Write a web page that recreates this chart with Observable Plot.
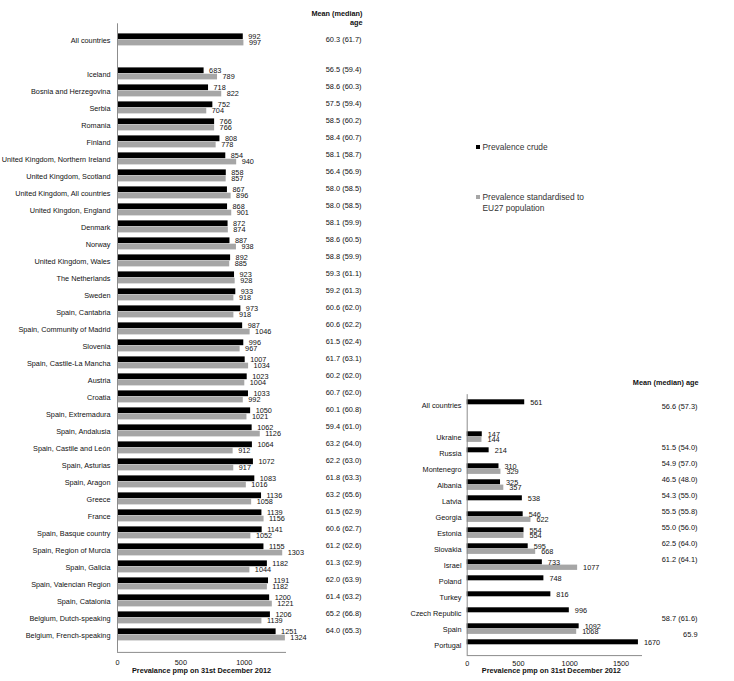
<!DOCTYPE html>
<html>
<head>
<meta charset="utf-8">
<script src="https://cdn.jsdelivr.net/npm/d3@7"></script>
<script src="https://cdn.jsdelivr.net/npm/@observablehq/plot@0.6"></script>
<style>
  html, body { margin: 0; padding: 0; background: #fff; }
  #wrap { position: relative; width: 734px; height: 681px; overflow: hidden; font-family: "Liberation Sans", Arial, sans-serif; }
  #wrap svg { position: absolute; top: 0; }
  .lg-sq { position: absolute; width: 4px; height: 4px; }
  .lg-tx { position: absolute; font-size: 8.4px; line-height: 11px; color: #333; white-space: nowrap; }
</style>
</head>
<body>
<div id="wrap"></div>
<script>
// ---------- Left panel data ----------
const leftCategories = [
  "All countries", "Iceland", "Bosnia and Herzegovina", "Serbia", "Romania", "Finland",
  "United Kingdom, Northern Ireland", "United Kingdom, Scotland", "United Kingdom, All countries",
  "United Kingdon, England", "Denmark", "Norway", "United Kingdom, Wales", "The Netherlands",
  "Sweden", "Spain, Cantabria", "Spain, Community of Madrid", "Slovenia", "Spain, Castile-La Mancha",
  "Austria", "Croatia", "Spain, Extremadura", "Spain, Andalusia", "Spain, Castile and León",
  "Spain, Asturias", "Spain, Aragon", "Greece", "France", "Spain, Basque country",
  "Spain, Region of Murcia", "Spain, Galicia", "Spain, Valencian Region", "Spain, Catalonia",
  "Belgium, Dutch-speaking", "Belgium, French-speaking"
];
const leftCrude = [992, 683, 718, 752, 766, 808, 854, 858, 867, 868, 872, 887, 892, 923, 933, 973, 987, 996, 1007, 1023, 1033, 1050, 1062, 1064, 1072, 1083, 1136, 1139, 1141, 1155, 1182, 1191, 1200, 1206, 1251];
const leftStandardised = [997, 789, 822, 704, 766, 778, 940, 857, 896, 901, 874, 938, 885, 928, 918, 918, 1046, 967, 1034, 1004, 992, 1021, 1126, 912, 917, 1016, 1058, 1156, 1052, 1303, 1044, 1182, 1221, 1139, 1324];
const leftMeanAge = ["60.3 (61.7)", "56.5 (59.4)", "58.6 (60.3)", "57.5 (59.4)", "58.5 (60.2)", "58.4 (60.7)",
  "58.1 (58.7)", "56.4 (56.9)", "58.0 (58.5)", "58.0 (58.5)", "58.1 (59.9)", "58.6 (60.5)", "58.8 (59.9)",
  "59.3 (61.1)", "59.2 (61.3)", "60.6 (62.0)", "60.6 (62.2)", "61.5 (62.4)", "61.7 (63.1)", "60.2 (62.0)",
  "60.7 (62.0)", "60.1 (60.8)", "59.4 (61.0)", "63.2 (64.0)", "62.2 (63.0)", "61.8 (63.3)", "63.2 (65.6)",
  "61.5 (62.9)", "60.6 (62.7)", "61.2 (62.6)", "61.3 (62.9)", "62.0 (63.9)", "61.4 (63.2)", "65.2 (66.8)",
  "64.0 (65.3)"];
const leftTicks = [0, 500, 1000];
const leftAxisLabel = "Prevalance pmp on 31st December 2012";

// ---------- Right panel data ----------
const rightCategories = ["All countries", "Ukraine", "Russia", "Montenegro", "Albania", "Latvia", "Georgia",
  "Estonia", "Slovakia", "Israel", "Poland", "Turkey", "Czech Republic", "Spain", "Portugal"];
const rightCrude = [561, 147, 214, 310, 325, 538, 546, 554, 595, 733, 748, 816, 996, 1092, 1670];
const rightStandardised = [null, 144, null, 329, 357, null, 622, 554, 668, 1077, null, null, null, 1068, null];
const rightMeanAge = ["56.6 (57.3)", null, "51.5 (54.0)", "54.9 (57.0)", "46.5 (48.0)", "54.3 (55.0)",
  "55.5 (55.8)", "55.0 (56.0)", "62.5 (64.0)", "61.2 (64.1)", null, null, null, "58.7 (61.6)", "65.9"];
const rightTicks = [0, 500, 1000, 1500];
const rightAxisLabel = "Prevalence pmp on 31st December 2012";

const ageHeaderLeft = "Mean (median)\nage";
const ageHeaderRight = "Mean (median) age";
const legendLabels = ["Prevalence crude", "Prevalence standardised to\nEU27 population"];

const CRUDE = "#000000", STD = "#a6a6a6", AXIS = "#8c8c8c";
const FONT = "'Liberation Sans', Arial, sans-serif";

// ---------- tables ----------
const leftRows = leftCategories.map((c, i) => ({cat: c, crude: leftCrude[i], std: leftStandardised[i], age: leftMeanAge[i], i}));
const rightRows = rightCategories.map((c, i) => ({cat: c, crude: rightCrude[i], std: rightStandardised[i], age: rightMeanAge[i], i}));
const leftDomain = [leftCategories[0], "", ...leftCategories.slice(1)];
const rightDomain = [rightCategories[0], "", ...rightCategories.slice(1)];

const wrap = document.getElementById("wrap");

// ---------- Left chart ----------
const left = Plot.plot({
  width: 420, height: 681,
  marginLeft: 117, marginRight: 135, marginTop: 23.3, marginBottom: 29.1,
  style: {fontFamily: FONT, fontSize: "7.3px", color: "#111", background: "transparent", overflow: "visible"},
  x: {domain: [0, 1325]},
  y: {domain: leftDomain, padding: 0},
  marks: [
    Plot.barX(leftRows, {y: "cat", x: "crude", fill: CRUDE, insetTop: 1.4, insetBottom: 9.8}),
    Plot.barX(leftRows, {y: "cat", x: "std", fill: STD, insetTop: 7.7, insetBottom: 3.6}),
    Plot.ruleX([0], {stroke: AXIS}),
    Plot.frame({anchor: "bottom", stroke: AXIS}),
    Plot.text(leftRows, {y: "cat", x: "crude", text: d => String(d.crude), dx: 5, dy: -4.3, textAnchor: "start"}),
    Plot.text(leftRows, {y: "cat", x: "std", text: d => String(d.std), dx: 5, dy: 2, textAnchor: "start"}),
    Plot.text(leftRows.filter(d => d.i === 0), {y: "cat", text: "age", frameAnchor: "right", dx: 76, dy: -1.3, fontSize: 7.4}),
    Plot.text(leftRows.filter(d => d.i > 0), {y: "cat", text: "age", frameAnchor: "right", dx: 76, dy: -5, fontSize: 7.4}),
    Plot.text([ageHeaderLeft], {text: d => d, frameAnchor: "top-right", dx: 77, dy: -13.8, fontWeight: "bold", lineHeight: 1.23}),
    Plot.text([leftAxisLabel], {text: d => d, frameAnchor: "bottom", dy: 20.8, fontWeight: "bold"}),
    Plot.axisY({tickSize: 0, tickPadding: 7, tickFormat: d => d, label: null}),
    Plot.axisX({ticks: leftTicks, tickSize: 0, tickPadding: 7.8, tickFormat: d => String(d), label: null})
  ]
});
left.style.left = "0px";
wrap.appendChild(left);

// ---------- Right chart ----------
const right = Plot.plot({
  width: 349, height: 681,
  marginLeft: 81.7, marginRight: 93, marginTop: 394.15, marginBottom: 25.9,
  style: {fontFamily: FONT, fontSize: "7.3px", color: "#111", background: "transparent", overflow: "visible"},
  x: {domain: [0, 1700]},
  y: {domain: rightDomain, padding: 0},
  marks: [
    Plot.barX(rightRows, {y: "cat", x: "crude", fill: CRUDE, insetTop: 2.3, insetBottom: 8.7}),
    Plot.barX(rightRows, {y: "cat", x: "std", fill: STD, insetTop: 7.6, insetBottom: 3.1}),
    Plot.ruleX([0], {stroke: AXIS}),
    Plot.frame({anchor: "bottom", stroke: AXIS}),
    Plot.text(rightRows, {y: "cat", x: "crude", text: d => String(d.crude), dx: 5.5, dy: -3.3, textAnchor: "start"}),
    Plot.text(rightRows, {y: "cat", x: "std", text: d => d.std == null ? null : String(d.std), dx: 5.5, dy: 2, textAnchor: "start"}),
    Plot.text(rightRows.filter(d => d.age && d.i === 0), {y: "cat", text: "age", frameAnchor: "right", dx: 56, dy: 1, fontSize: 7.4}),
    Plot.text(rightRows.filter(d => d.age && d.i > 0 && d.i < 12), {y: "cat", text: "age", frameAnchor: "right", dx: 56, dy: -6, fontSize: 7.4}),
    Plot.text(rightRows.filter(d => d.age && d.i >= 12), {y: "cat", text: "age", frameAnchor: "right", dx: 56, dy: -10.5, fontSize: 7.4}),
    Plot.text([ageHeaderRight], {text: d => d, frameAnchor: "top-right", dx: 57, dy: -15.2, fontWeight: "bold"}),
    Plot.text([rightAxisLabel], {text: d => d, frameAnchor: "bottom", dx: -3, dy: 17.5, fontWeight: "bold"}),
    Plot.axisY({tickSize: 0, tickPadding: 5.7, tickFormat: d => d, label: null}),
    Plot.axisX({ticks: rightTicks, tickSize: 0, tickPadding: 5, tickFormat: d => String(d), label: null})
  ]
});
right.style.left = "385px";
wrap.appendChild(right);

// ---------- Legend ----------
const legendItems = [
  {label: legendLabels[0], color: CRUDE, sqTop: 145.3, txTop: 142.2},
  {label: legendLabels[1], color: STD, sqTop: 194.7, txTop: 191.5}
];
for (const it of legendItems) {
  const sq = document.createElement("div");
  sq.className = "lg-sq";
  sq.style.left = "476px"; sq.style.top = it.sqTop + "px"; sq.style.background = it.color;
  wrap.appendChild(sq);
  const tx = document.createElement("div");
  tx.className = "lg-tx";
  tx.style.left = "482.5px"; tx.style.top = it.txTop + "px";
  tx.innerHTML = it.label.split("\n").join("<br>");
  wrap.appendChild(tx);
}
</script>
</body>
</html>
